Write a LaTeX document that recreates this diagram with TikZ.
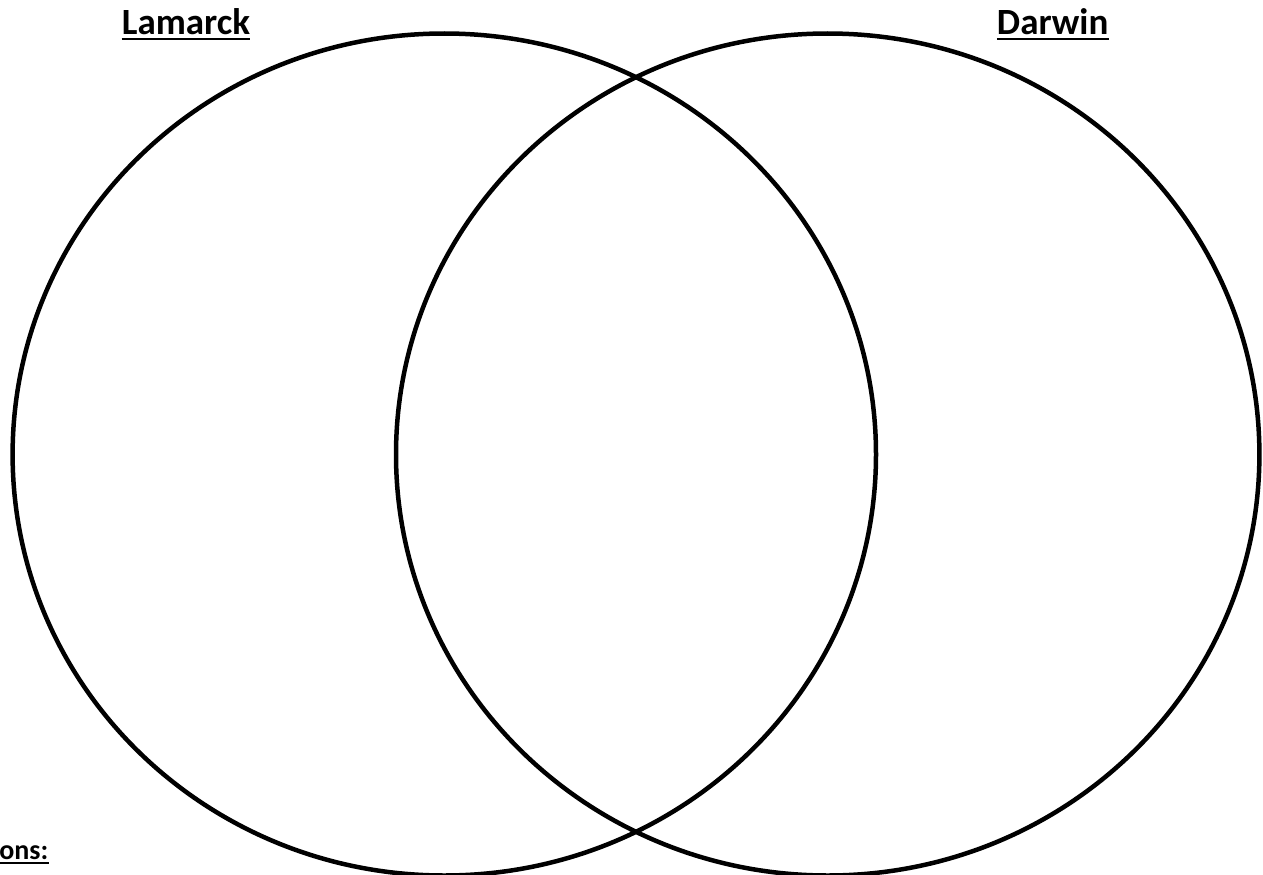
\documentclass[tikz,border=0pt]{standalone}
\usepackage{fontspec}
\setmainfont{Carlito}
\begin{document}
\begin{tikzpicture}[x=1pt,y=-1pt,
  ring/.style={draw=black,line width=4.5pt},
  lbl/.style={inner sep=0pt,font=\bfseries\fontsize{37}{40}\selectfont},
  small/.style={inner sep=0pt,font=\bfseries\fontsize{28}{32}\selectfont},
  ul/.style={draw=black,line width=2pt}]
\useasboundingbox (0,0) rectangle (1263,875);
\clip (0,0) rectangle (1263,875);
\fill[white] (0,0) rectangle (1263,875);
\draw[ring] (444.3,454.5) ellipse [x radius=431.7, y radius=421];
\draw[ring] (827.7,454.5) ellipse [x radius=431.7, y radius=421];
\node[lbl,anchor=base] (lam) at (186,34.3) {Lamarck};
\draw[ul] ([yshift=-5pt]lam.base west) -- ([yshift=-5pt]lam.base east);
\node[lbl,anchor=base] (dar) at (1052.7,34.3) {Darwin};
\draw[ul] ([yshift=-5pt]dar.base west) -- ([yshift=-5pt]dar.base east);
\node[small,anchor=base east] (dir) at (48.5,859.3) {ons:};
\draw[ul] ([yshift=-3.5pt]dir.base west) -- ([yshift=-3.5pt]dir.base east);
\end{tikzpicture}
\end{document}
